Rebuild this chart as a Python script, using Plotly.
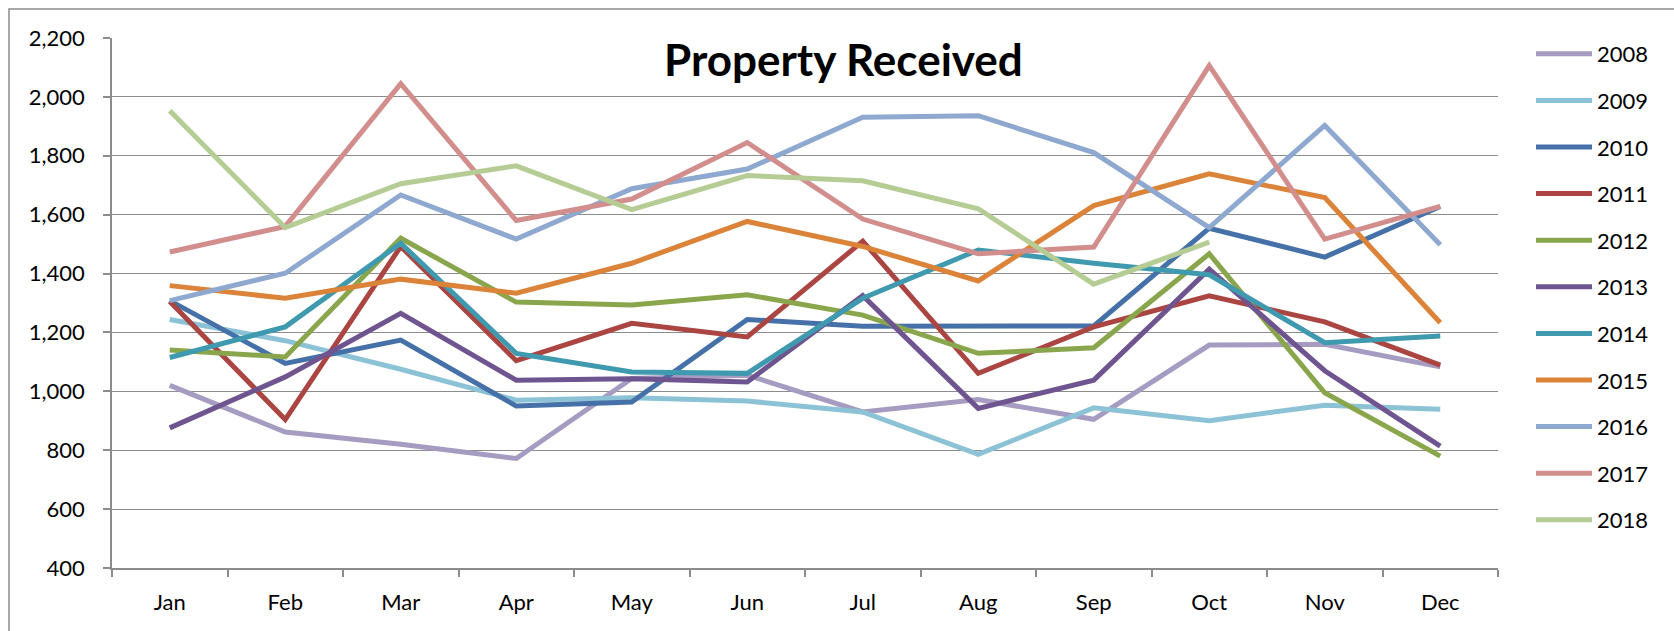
import plotly.graph_objects as go

months = ["Jan", "Feb", "Mar", "Apr", "May", "Jun", "Jul", "Aug", "Sep", "Oct", "Nov", "Dec"]

y2008 = [1020, 862, 820, 772, 1044, 1055, 930, 972, 905, 1157, 1160, 1083]
y2009 = [1244, 1172, 1075, 970, 978, 967, 930, 786, 944, 900, 953, 939]
y2010 = [1308, 1095, 1174, 950, 964, 1244, 1221, 1221, 1222, 1554, 1456, 1628]
y2011 = [1305, 904, 1492, 1104, 1231, 1185, 1510, 1061, 1219, 1324, 1236, 1089]
y2012 = [1140, 1117, 1520, 1303, 1293, 1328, 1259, 1129, 1148, 1467, 995, 780]
y2013 = [876, 1049, 1265, 1038, 1043, 1032, 1325, 942, 1038, 1415, 1070, 814]
y2014 = [1115, 1219, 1503, 1129, 1066, 1061, 1316, 1480, 1435, 1396, 1165, 1188]
y2015 = [1359, 1316, 1381, 1333, 1435, 1577, 1492, 1375, 1631, 1739, 1658, 1233]
y2016 = [1308, 1401, 1667, 1517, 1688, 1755, 1931, 1936, 1811, 1556, 1903, 1498]
y2017 = [1473, 1560, 2045, 1580, 1653, 1845, 1585, 1467, 1490, 2106, 1517, 1628]
y2018 = [1953, 1556, 1705, 1766, 1617, 1733, 1715, 1620, 1364, 1507, None, None]

years = ["2008", "2009", "2010", "2011", "2012", "2013", "2014", "2015", "2016", "2017", "2018"]
series = [y2008, y2009, y2010, y2011, y2012, y2013, y2014, y2015, y2016, y2017, y2018]
colors = ["#A69BC0", "#8CC2D5", "#4571A8", "#AA4542", "#89A64C", "#6F5590",
          "#3F99AF", "#DC833A", "#8FA8CF", "#D18E8D", "#B5CC94"]

FONT = "Lato, Carlito, Calibri, sans-serif"

fig = go.Figure()
for name, vals, col in zip(years, series, colors):
    fig.add_trace(go.Scatter(
        x=months, y=vals, name=name, mode="lines",
        line=dict(color=col, width=5),
        legendgroup=name,
    ))

W, H = 1674, 631
L, R, T, B = 112, 176, 38, 63
pw, ph = W - L - R, H - T - B

def px_x(x):
    return (x - L) / pw

def px_y(y):
    return (H - B - y) / ph

fig.update_layout(
    width=W, height=H,
    margin=dict(l=L, r=R, t=T, b=B, pad=0),
    paper_bgcolor="white", plot_bgcolor="white",
    font=dict(family=FONT, size=22, color="black"),
    showlegend=True,
    legend=dict(
        x=px_x(1531), xanchor="left",
        y=px_y(33), yanchor="top",
        font=dict(family=FONT, size=22, color="black"),
        itemwidth=56,
        tracegroupgap=15,
        maxheight=620,
        bgcolor="rgba(0,0,0,0)",
    ),
    annotations=[dict(
        text="<b>Property Received</b>", xref="paper", yref="paper",
        x=px_x(843), y=px_y(59), xanchor="center", yanchor="middle",
        showarrow=False, font=dict(family=FONT, size=44, color="black"),
    )],
    shapes=[dict(
        type="rect", xref="paper", yref="paper",
        x0=px_x(9), x1=px_x(1690), y0=px_y(650), y1=px_y(9),
        line=dict(color="#8C8C8C", width=1.5), fillcolor="rgba(0,0,0,0)",
        layer="below",
    )],
)

fig.update_xaxes(
    type="category", categoryorder="array", categoryarray=months,
    showgrid=False, showline=True, linecolor="#8C8C8C", linewidth=1.5,
    ticks="outside", tickson="boundaries", ticklen=7, tickcolor="#8C8C8C", tickwidth=1.5,
    tickfont=dict(family=FONT, size=22, color="black"),
    ticklabelstandoff=14,
    range=[-0.5, 11.5], zeroline=False, fixedrange=True,
)
fig.update_yaxes(
    range=[400, 2200], dtick=200, tick0=400, tickformat=",",
    showgrid=True, gridcolor="#8C8C8C", gridwidth=1.3,
    showline=True, linecolor="#8C8C8C", linewidth=1.5,
    ticks="outside", ticklen=7, tickcolor="#8C8C8C", tickwidth=1.5,
    tickfont=dict(family=FONT, size=22, color="black"),
    ticklabelstandoff=14,
    zeroline=False, fixedrange=True,
)

fig.write_html(
    "out.html",
    config={"displayModeBar": False},
    post_script="document.body.style.margin='0';document.body.style.overflow='hidden';",
)
